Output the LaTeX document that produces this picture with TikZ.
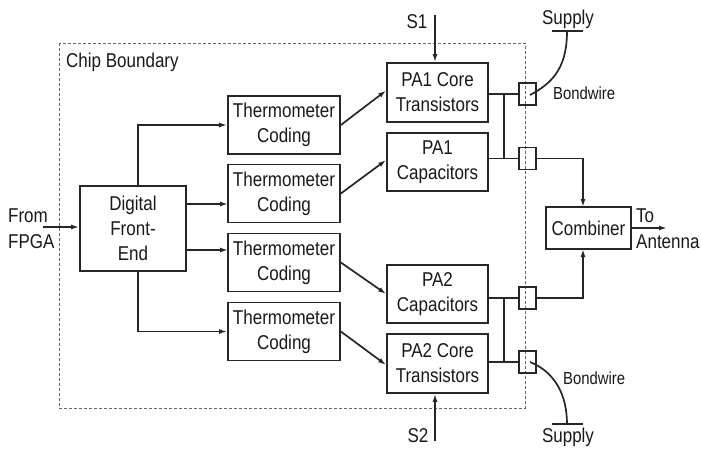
\documentclass[tikz,border=0pt]{standalone}
\usepackage{fontspec}
\setmainfont[FakeStretch=0.85]{Liberation Sans}
\usetikzlibrary{arrows.meta,calc}
\begin{document}
\begin{tikzpicture}[x=1pt,y=-1pt,
 ink/.style={draw=black!85, line width=1.7pt},
 box/.style={ink, fill=white, inner sep=0pt, align=center, font=\fontsize{20}{25}\selectfont, text=black!90},
 pad/.style={ink, line width=1.4pt, minimum width=17pt, minimum height=22pt, inner sep=0pt},
 arr/.style={ink, -{Latex[length=8pt,width=5pt]}},
 lbl/.style={font=\fontsize{20}{25}\selectfont, text=black!90, inner sep=0pt, align=center},
 small/.style={font=\fontsize{17.5}{20}\selectfont, text=black!90, inner sep=0pt}]
\useasboundingbox (0,0) rectangle (701,451);

% chip boundary
\draw[black!60, line width=0.8pt, dash pattern=on 3pt off 2pt] (59,43) rectangle (525,408);
\node[lbl, anchor=west] (chip) at (66,62) {Chip Boundary};

% digital front-end
\node[box, minimum width=106pt, minimum height=85pt] (dfe) at (133,228.5) {Digital\\Front-\\End};

% thermometer coding
\foreach \i/\y in {1/125,2/193.5,3/262.5,4/331.5}
  \node[box, minimum width=112pt, minimum height=58pt] (th\i) at (284,\y) {Thermometer\\Coding};

% PA blocks
\node[box, minimum width=101pt, minimum height=59pt] (pa1) at (437.5,92.5) {PA1 Core\\Transistors};
\node[box, minimum width=101pt, minimum height=58pt] (pa2) at (437.5,162) {PA1\\Capacitors};
\node[box, minimum width=101pt, minimum height=58pt] (pa3) at (437.5,294) {PA2\\Capacitors};
\node[box, minimum width=101pt, minimum height=59pt] (pa4) at (437.5,363.5) {PA2 Core\\Transistors};

% pads
\node[pad] (pd1) at (527.5,94) {};
\node[pad] (pd2) at (527.5,158.5) {};
\node[pad] (pd3) at (527.5,298) {};
\node[pad] (pd4) at (527.5,362) {};

% combiner
\node[box, minimum width=85pt, minimum height=42pt] (comb) at (588.5,228) {Combiner};
\coordinate (ctop) at (583,207);
\coordinate (cbot) at (583,249);

% input
\node[lbl, anchor=west] (from) at (8,216) {From};
\node[lbl, anchor=west] (fpga) at (8,242) {FPGA};
\coordinate (fin) at (43,227);
\draw[arr] (fin) -- (fin -| dfe.west);

% DFE -> thermometer
\coordinate (t2in) at (228,204);
\coordinate (t3in) at (228,250);
\draw[arr] ($(dfe.north)+(5,0)$) |- (th1.west);
\draw[arr] (t2in -| dfe.east) -- (t2in);
\draw[arr] (t3in -| dfe.east) -- (t3in);
\draw[arr] ($(dfe.south)+(5,0)$) |- (th4.west);

% thermometer -> PA
\draw[arr] (th1.east) -- ($(pa1.west)+(0,-2)$);
\draw[arr] (th2.east) -- ($(pa2.west)+(0,-2)$);
\draw[arr] (th3.east) -- (pa3.west);
\draw[arr] (th4.east) -- ($(pa4.west)+(0,1.5)$);

% PA -> pads
\draw[ink] (pd1.west) -- (pd1.west -| pa1.east);
\draw[ink] (pd2.west) -- (pd2.west -| pa2.east);
\draw[ink] (pd3.west) -- (pd3.west -| pa3.east);
\draw[ink] (pd4.west) -- (pd4.west -| pa4.east);
\coordinate (j1) at (504,94);
\coordinate (j2) at (504,298);
\draw[ink] (j1) -- (j1 |- pd2.west);
\draw[ink] (j2) -- (j2 |- pd4.west);

% pads -> combiner
\draw[arr] (pd2.east) -| (ctop);
\draw[arr] (pd3.east) -| (cbot);

% output
\coordinate (aout) at (667,228);
\draw[arr] (comb.east) -- (aout);
\node[lbl, anchor=west] (to) at (636,216) {To};
\node[lbl, anchor=west] (ant) at (636,242) {Antenna};

% S1 / S2
\node[lbl] (s1) at (417,22) {S1};
\node[lbl] (s2) at (418,436) {S2};
\coordinate (s1a) at (435,15);
\coordinate (s2a) at (435,441);
\draw[arr] (s1a) -- (s1a |- pa1.north);
\draw[arr] (s2a) -- (s2a |- pa4.south);

% supplies and bondwires
\node[lbl] (sup1) at (568,19) {Supply};
\node[lbl] (sup2) at (568,437) {Supply};
\coordinate (g1) at (567,31);
\coordinate (g2) at (567,424);
\draw[ink] ($(g1)+(-15,0)$) -- ($(g1)+(16,0)$);
\draw[ink] ($(g2)+(-15,0)$) -- ($(g2)+(16,0)$);
\draw[ink] ($(pd1.center)+(2.5,1)$) .. controls (555,82) and (567,65) .. (g1);
\draw[ink] ($(pd4.center)+(2.5,0)$) .. controls (555,372) and (567,395) .. (g2);
\node[small, anchor=west] (bw1) at (553,93) {Bondwire};
\node[small, anchor=west] (bw2) at (563,378) {Bondwire};
\end{tikzpicture}
\end{document}
